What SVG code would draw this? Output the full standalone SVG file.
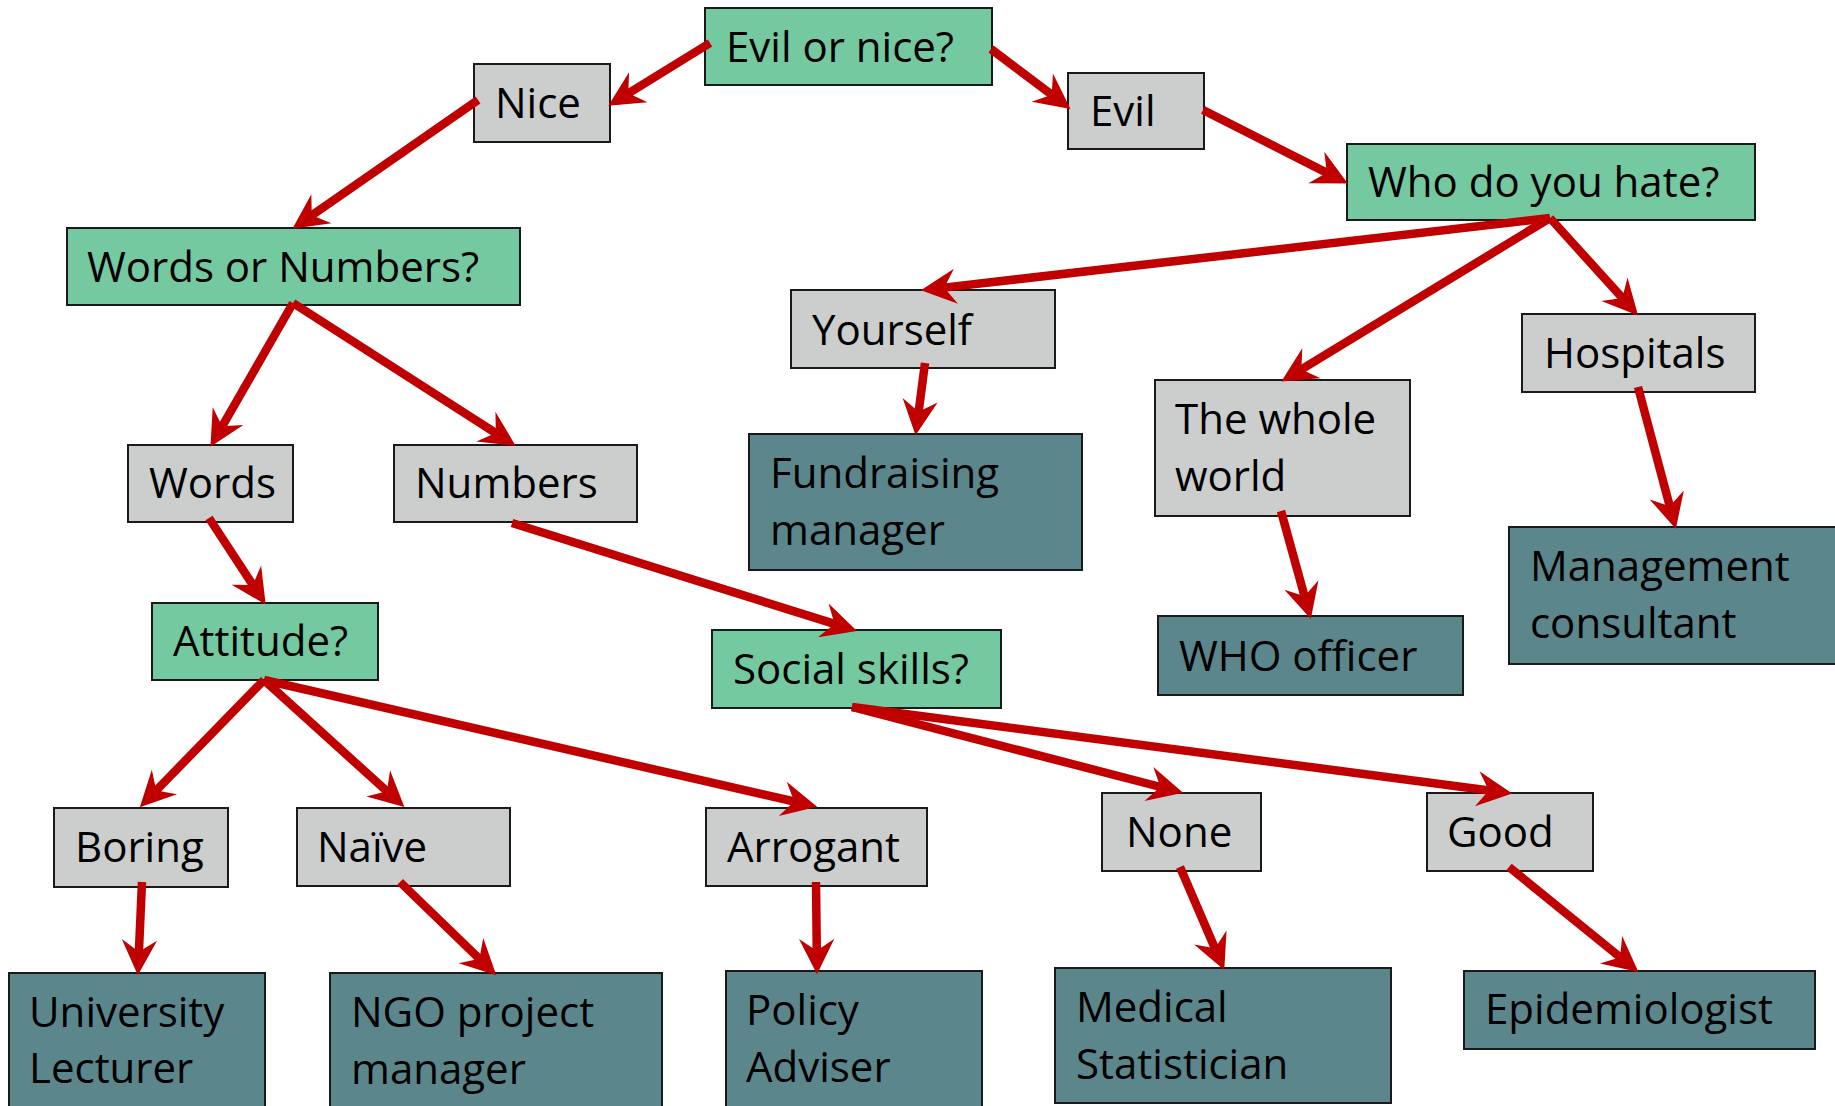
<svg xmlns="http://www.w3.org/2000/svg" width="1835" height="1106" viewBox="0 0 1835 1106">
<style>
.g{fill:#74C9A0;stroke:#1a1a1a;stroke-width:2}
.s{fill:#CCCECD;stroke:#1a1a1a;stroke-width:2}
.t{fill:#5B878C;stroke:#1a1a1a;stroke-width:2}
text{font-family:"Open Sans","Liberation Sans",sans-serif;font-size:42px;fill:#000}
.c line{stroke:#C00000;stroke-width:8.5;marker-end:url(#ah)}
</style>
<defs>
<marker id="ah" markerUnits="userSpaceOnUse" markerWidth="40" markerHeight="40" viewBox="-14 -16 34 32" refX="0" refY="0" orient="auto" overflow="visible">
<path d="M18,0 L-12,-15 L-2,0 L-12,15 Z" fill="#C00000"/>
</marker>
</defs>
<rect width="1835" height="1106" fill="#fff"/>
<g id="n_evilnice"><rect class="g" x="705" y="8" width="287" height="77"/><text x="726" y="62">Evil or nice?</text></g>
<g id="n_nice"><rect class="s" x="474" y="64" width="136" height="78"/><text x="495" y="118">Nice</text></g>
<g id="n_evil"><rect class="s" x="1068" y="73" width="136" height="76"/><text x="1090" y="126">Evil</text></g>
<g id="n_who"><rect class="g" x="1347" y="144" width="408" height="76"/><text x="1368" y="197">Who do you hate?</text></g>
<g id="n_wordsnum"><rect class="g" x="67" y="228" width="453" height="77"/><text x="87" y="282">Words or Numbers?</text></g>
<g id="n_yourself"><rect class="s" x="791" y="290" width="264" height="78"/><text x="812" y="345">Yourself</text></g>
<g id="n_hospitals"><rect class="s" x="1522" y="314" width="233" height="78"/><text x="1544" y="368">Hospitals</text></g>
<g id="n_world"><rect class="s" x="1155" y="380" width="255" height="136"/><text x="1175" y="434">The whole</text><text x="1175" y="491">world</text></g>
<g id="n_fund"><rect class="t" x="749" y="434" width="333" height="136"/><text x="770" y="488">Fundraising</text><text x="770" y="545">manager</text></g>
<g id="n_mgmt"><rect class="t" x="1509" y="527" width="340" height="137"/><text x="1530" y="581">Management</text><text x="1530" y="638">consultant</text></g>
<g id="n_words"><rect class="s" x="128" y="445" width="165" height="77"/><text x="149" y="498">Words</text></g>
<g id="n_numbers"><rect class="s" x="394" y="445" width="243" height="77"/><text x="415" y="498">Numbers</text></g>
<g id="n_attitude"><rect class="g" x="152" y="603" width="226" height="77"/><text x="173" y="656">Attitude?</text></g>
<g id="n_social"><rect class="g" x="712" y="630" width="289" height="78"/><text x="733" y="684">Social skills?</text></g>
<g id="n_whoofficer"><rect class="t" x="1158" y="616" width="305" height="79"/><text x="1179" y="671">WHO officer</text></g>
<g id="n_boring"><rect class="s" x="54" y="808" width="174" height="79"/><text x="75" y="862">Boring</text></g>
<g id="n_naive"><rect class="s" x="297" y="808" width="213" height="78"/><text x="317" y="862">Naïve</text></g>
<g id="n_arrogant"><rect class="s" x="706" y="808" width="221" height="78"/><text x="727" y="862">Arrogant</text></g>
<g id="n_none"><rect class="s" x="1102" y="793" width="159" height="78"/><text x="1126" y="847">None</text></g>
<g id="n_good"><rect class="s" x="1427" y="793" width="166" height="78"/><text x="1447" y="847">Good</text></g>
<g id="n_univ"><rect class="t" x="9" y="973" width="256" height="140"/><text x="29" y="1027">University</text><text x="29" y="1083">Lecturer</text></g>
<g id="n_ngo"><rect class="t" x="330" y="973" width="332" height="140"/><text x="351" y="1027">NGO project</text><text x="351" y="1084">manager</text></g>
<g id="n_policy"><rect class="t" x="726" y="971" width="256" height="140"/><text x="746" y="1025">Policy</text><text x="746" y="1082">Adviser</text></g>
<g id="n_medical"><rect class="t" x="1055" y="968" width="336" height="135"/><text x="1076" y="1022">Medical</text><text x="1076" y="1079">Statistician</text></g>
<g id="n_epi"><rect class="t" x="1464" y="971" width="351" height="78"/><text x="1485" y="1024">Epidemiologist</text></g>
<g id="connectors" class="c">
<line x1="710" y1="43" x2="626.3" y2="94.6"/>
<line x1="991" y1="49" x2="1053.6" y2="96.2"/>
<line x1="478" y1="100" x2="309.8" y2="216.7"/>
<line x1="1203" y1="110" x2="1328.9" y2="173.9"/>
<line x1="1550" y1="218" x2="941.9" y2="287.9"/>
<line x1="1550" y1="218" x2="1299.4" y2="370.6"/>
<line x1="1550" y1="218" x2="1623.9" y2="299.7"/>
<line x1="925" y1="363" x2="918.3" y2="414.2"/>
<line x1="1281" y1="511" x2="1305.2" y2="598.6"/>
<line x1="1638" y1="387" x2="1670.4" y2="508.6"/>
<line x1="293" y1="303" x2="221" y2="428.4"/>
<line x1="293" y1="303" x2="497.8" y2="434.3"/>
<line x1="209" y1="518" x2="254.1" y2="586.9"/>
<line x1="512" y1="523" x2="836.8" y2="624.6"/>
<line x1="264" y1="680" x2="154.6" y2="792.1"/>
<line x1="264" y1="680" x2="388.7" y2="792.9"/>
<line x1="264" y1="680" x2="796.5" y2="802"/>
<line x1="142" y1="882" x2="138.8" y2="954"/>
<line x1="400" y1="882" x2="481.1" y2="960.5"/>
<line x1="816" y1="882" x2="816.8" y2="953"/>
<line x1="852" y1="707" x2="1162.6" y2="787.5"/>
<line x1="852" y1="707" x2="1491.2" y2="790.7"/>
<line x1="1180" y1="867" x2="1215.9" y2="950.5"/>
<line x1="1509" y1="867" x2="1622" y2="958.7"/>
</g>
</svg>
